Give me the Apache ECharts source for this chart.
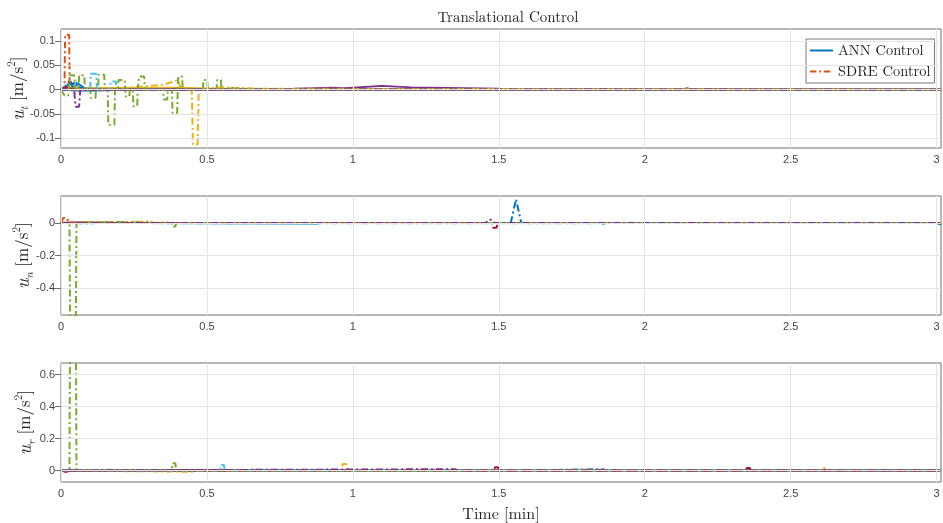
<!DOCTYPE html>
<html>
<head>
<meta charset="utf-8">
<script src="https://cdn.jsdelivr.net/npm/echarts@6/dist/echarts.min.js"></script>
<style>
  html, body { margin: 0; padding: 0; background: #fff; }
  #chart { width: 943px; height: 523px; }
</style>
</head>
<body>
<div id="chart"></div>
<script>
// time axis [min]
let tEnd = 3.015;
let xTicks = [0, 0.5, 1, 1.5, 2, 2.5, 3];

// u_t panel, ANN (solid)
let utAnnBlue = [[0, 0], [0.02, 0.008], [0.03, 0.015], [0.04, 0.005], [0.06, 0.012], [0.08, 0.004], [0.12, 0.002], [0.4, 0], [tEnd, 0]];
let utAnnOrange = [[0, 0], [0.012, 0.005], [0.03, 0.002], [tEnd, 0]];
let utAnnYellow = [[0, 0], [0.05, 0.003], [0.4, 0.004], [0.6, 0.001], [tEnd, 0]];
let utAnnPurple = [[0, 0], [0.05, -0.002], [0.3, 0], [0.6, 0.001], [0.8, 0.002], [0.93, 0.004], [0.97, 0.003], [1.1, 0.008], [1.2, 0.005], [1.5, 0.002], [2, 0.001], [tEnd, 0]];
let utAnnGreen = [[0, 0], [0.1, 0.002], [0.5, 0.001], [2.13, 0], [2.145, 0.004], [2.16, 0], [tEnd, 0]];
let utAnnLblue = [[0, 0], [0.1, -0.003], [0.2, 0], [tEnd, 0]];
let utAnnRed = [[0, 0], [0.02, 0.003], [0.06, 0.001], [tEnd, 0]];

// u_t panel, SDRE (dash-dot)
let utSdreBlue = [[0, 0], [0.02, 0.01], [0.03, 0.02], [0.04, 0.01], [0.05, 0.018], [0.06, 0.005], [0.1, 0], [tEnd, 0]];
let utSdreOrange = [[0, 0], [0.012, 0], [0.014, 0.113], [0.028, 0.113], [0.03, 0], [tEnd, 0]];
let utSdreYellow = [[0, 0], [0.2, 0.003], [0.35, 0.01], [0.4, 0.02], [0.41, 0.005], [0.448, 0], [0.452, -0.113], [0.468, -0.113], [0.472, 0], [0.55, 0.005], [0.62, 0.003], [0.7, 0.002], [tEnd, 0]];
let utSdrePurple = [[0, 0], [0.045, 0], [0.05, -0.035], [0.062, -0.035], [0.066, 0], [tEnd, 0]];
let utSdreGreen = [[0, 0], [0.012, -0.012], [0.025, -0.012], [0.03, 0.03], [0.045, 0.03], [0.05, 0], [0.06, 0], [0.062, 0.03], [0.08, 0.03], [0.082, 0],
    [0.1, 0], [0.102, -0.017], [0.118, -0.017], [0.12, 0], [0.127, 0], [0.129, 0.031], [0.148, 0.031], [0.15, 0],
    [0.16, 0], [0.162, -0.072], [0.183, -0.072], [0.185, 0], [0.195, 0], [0.197, 0.02], [0.218, 0.02], [0.22, 0],
    [0.222, -0.014], [0.234, -0.014], [0.236, 0], [0.246, 0], [0.248, -0.034], [0.261, -0.034], [0.263, 0],
    [0.265, 0], [0.267, 0.027], [0.285, 0.027], [0.287, 0], [0.35, 0], [0.352, -0.02], [0.364, -0.02], [0.366, 0],
    [0.38, 0], [0.382, -0.048], [0.398, -0.048], [0.4, 0], [0.402, 0.027], [0.415, 0.027], [0.417, 0],
    [0.486, 0], [0.488, 0.02], [0.501, 0.02], [0.503, 0], [0.533, 0], [0.535, 0.02], [0.548, 0.02], [0.55, 0],
    [0.6, 0.004], [0.65, 0], [tEnd, 0]];
let utSdreLblue = [[0, 0], [0.1, 0], [0.102, 0.033], [0.121, 0.033], [0.123, 0], [0.168, 0], [0.17, 0.017], [0.188, 0.017], [0.19, 0], [tEnd, 0]];
let utSdreRed = [[0, 0], [0.02, 0.005], [0.04, 0], [tEnd, 0]];

// u_n panel
let unAnnBlue = [[0, 0], [0.87, -0.004], [0.9, 0], [tEnd, 0]];
let unAnnOther = [[0, 0], [0.05, 0.002], [0.2, 0], [tEnd, 0]];
let unSdreBlue = [[0, 0], [0.86, 0], [0.87, -0.008], [0.88, 0], [1.541, 0], [1.559, 0.145], [1.577, 0], [1.85, 0], [1.86, -0.006], [1.87, 0], [3.0, 0], [3.01, -0.008], [tEnd, -0.005]];
let unSdreOrange = [[0, 0], [0.008, 0.03], [0.02, 0.03], [0.028, 0], [tEnd, 0]];
let unSdreYellow = [[0, 0], [0.3, 0.008], [0.32, 0], [tEnd, 0]];
let unSdrePurple = [[0, 0], [1.455, 0], [1.465, 0.02], [1.475, 0.02], [1.485, 0], [tEnd, 0]];
let unSdreGreen = [[0, 0], [0.029, 0], [0.031, -0.57], [0.051, -0.57], [0.053, 0], [0.2, 0.006], [0.22, 0.004], [0.38, 0], [0.382, -0.022], [0.392, -0.022], [0.394, 0], [tEnd, 0]];
let unSdreLblue = [[0, 0], [0.1, -0.004], [0.12, 0], [0.55, -0.003], [tEnd, 0]];
let unSdreRed = [[0, 0], [1.475, 0], [1.48, -0.03], [1.492, -0.03], [1.497, 0], [tEnd, 0]];

// u_r panel
let urAnnBlue = [[0, 0], [0.03, 0.003], [0.1, 0], [tEnd, 0]];
let urAnnOther = [[0, 0], [0.04, -0.002], [0.2, 0], [tEnd, 0]];
let urSdreBlue = [[0, 0], [1.565, 0], [1.57, -0.01], [1.58, 0], [1.855, 0.008], [1.87, 0], [tEnd, 0]];
let urSdreOrange = [[0, 0], [0.015, -0.008], [0.03, 0], [tEnd, 0]];
let urSdreYellow = [[0, 0], [0.45, -0.008], [0.47, 0], [0.962, 0], [0.965, 0.04], [0.978, 0.04], [0.981, 0], [2.6, 0], [2.605, 0.015], [2.615, 0.015], [2.62, 0], [tEnd, 0]];
let urSdrePurple = [[0, 0], [1.35, 0.008], [1.36, 0], [tEnd, 0]];
let urSdreGreen = [[0, 0], [0.029, 0], [0.031, 0.9], [0.051, 0.9], [0.053, 0], [0.17, 0.004], [0.38, 0], [0.382, 0.045], [0.392, 0.045], [0.394, 0], [tEnd, 0]];
let urSdreLblue = [[0, 0], [0.545, 0], [0.548, 0.035], [0.558, 0.035], [0.561, 0], [tEnd, 0]];
let urSdreRed = [[0, 0], [0.02, -0.008], [0.03, 0], [1.483, 0], [1.487, 0.02], [1.497, 0.02], [1.5, 0], [2.345, 0], [2.35, 0.015], [2.36, 0.015], [2.365, 0], [tEnd, 0]];

// y ranges and tick values
let yRanges = [[-0.12, 0.125], [-0.565, 0.165], [-0.072, 0.672]];
let yTicks = [[-0.1, -0.05, 0, 0.05, 0.1], [-0.4, -0.2, 0], [0, 0.2, 0.4, 0.6]];
let yNames = ['t', 'n', 'r'];

let colors = ['#0072BD', '#D95319', '#EDB120', '#7E2F8E', '#77AC30', '#4DBEEE', '#A2142F'];
let dashDot = [7, 3, 2, 3];

let panels = [
    {
        ann: [utAnnBlue, utAnnOrange, utAnnYellow, utAnnPurple, utAnnGreen, utAnnLblue, utAnnRed],
        sdre: [utSdreBlue, utSdreOrange, utSdreYellow, utSdreRed, utSdreLblue, utSdreGreen, utSdrePurple]
    },
    {
        ann: [unAnnBlue, unAnnOther, unAnnOther, unAnnOther, unAnnOther, unAnnOther, unAnnOther],
        sdre: [unSdreBlue, unSdreOrange, unSdreYellow, unSdreRed, unSdreLblue, unSdreGreen, unSdrePurple]
    },
    {
        ann: [urAnnBlue, urAnnOther, urAnnOther, urAnnOther, urAnnOther, urAnnOther, urAnnOther],
        sdre: [urSdreBlue, urSdreOrange, urSdreYellow, urSdreRed, urSdreLblue, urSdreGreen, urSdrePurple]
    }
];
let sdreColors = [0, 1, 2, 6, 5, 4, 3];

let gridTops = [29, 196, 363];
let gridHeight = 119;
let nameGaps = [31, 26, 24];
let serif = '"Latin Modern Roman", "DejaVu Serif", "Liberation Serif", serif';
let sans = '"Liberation Sans", Arial, Helvetica, sans-serif';
let axisGray = '#6e6e6e';

let grids = [], xAxes = [], yAxes = [], series = [];
panels.forEach(function(p, i) {
    grids.push({
        left: 61, right: 2, top: gridTops[i], height: gridHeight,
        outerBoundsMode: 'none', containLabel: false,
        show: true, borderColor: axisGray, borderWidth: 1
    });
    xAxes.push({
        type: 'value', gridIndex: i, min: 0, max: tEnd,
        axisLine: { lineStyle: { color: axisGray } },
        axisTick: { inside: true, length: 6, customValues: xTicks, lineStyle: { color: axisGray } },
        axisLabel: { color: '#444', fontFamily: sans, fontSize: 11, margin: 6, customValues: xTicks },
        splitLine: { show: false },
        name: i === 2 ? 'Time [min]' : '',
        nameLocation: 'middle', nameGap: 24, nameMoveOverlap: false,
        nameTextStyle: { fontFamily: serif, fontSize: 16, color: '#222' }
    });
    let yr = yRanges[i];
    yAxes.push({
        type: 'value', gridIndex: i, min: yr[0], max: yr[1],
        axisLine: { show: true, lineStyle: { color: axisGray } },
        axisTick: { show: true, inside: true, length: 6, customValues: yTicks[i], lineStyle: { color: axisGray } },
        axisLabel: { color: '#444', fontFamily: sans, fontSize: 11, margin: 6, customValues: yTicks[i] },
        splitLine: { show: false },
        name: '{u|u}{s|' + yNames[i] + '}{b| [m/s}{p|2}{b|]}',
        nameLocation: 'middle', nameGap: nameGaps[i], nameMoveOverlap: false,
        nameTextStyle: {
            rich: {
                u: { fontFamily: serif, fontStyle: 'italic', fontSize: 19, color: '#222', lineHeight: 24, verticalAlign: 'middle' },
                s: { fontFamily: serif, fontStyle: 'italic', fontSize: 11, color: '#222', lineHeight: 24, verticalAlign: 'bottom' },
                b: { fontFamily: serif, fontSize: 17, color: '#222', lineHeight: 24, verticalAlign: 'middle' },
                p: { fontFamily: serif, fontSize: 11, color: '#222', lineHeight: 24, verticalAlign: 'top' }
            }
        }
    });
    // mirrored ticks on the top and right box edges
    xAxes.push({
        type: 'value', gridIndex: i, min: 0, max: tEnd, position: 'top',
        axisLine: { show: false },
        axisTick: { show: true, inside: true, length: 6, customValues: xTicks, lineStyle: { color: axisGray } },
        axisLabel: { show: false }, splitLine: { show: false }
    });
    yAxes.push({
        type: 'value', gridIndex: i, min: yr[0], max: yr[1], position: 'right',
        axisLine: { show: false },
        axisTick: { show: true, inside: true, length: 6, customValues: yTicks[i], lineStyle: { color: axisGray } },
        axisLabel: { show: false }, splitLine: { show: false }
    });
    let xi = i * 2, yi = i * 2;
    // grid lines at the tick values, drawn under the data
    series.push({
        name: 'grid' + i, type: 'line', xAxisIndex: xi, yAxisIndex: yi, data: [],
        silent: true, symbol: 'none', z: 0,
        markLine: {
            silent: true, symbol: 'none', label: { show: false }, animation: false,
            lineStyle: { color: '#e4e4e4', width: 1, type: 'solid' },
            data: xTicks.map(function(v) { return { xAxis: v }; })
                .concat(yTicks[i].map(function(v) { return { yAxis: v }; }))
        }
    });
    p.ann.forEach(function(d, k) {
        series.push({
            name: (i === 0 && k === 0) ? 'ANN Control' : 'ann' + i + k,
            type: 'line', xAxisIndex: xi, yAxisIndex: yi, data: d,
            showSymbol: false, symbol: 'none', silent: true, z: 2,
            lineStyle: { color: colors[k], width: 1.8 },
            itemStyle: { color: colors[k] }
        });
    });
    p.sdre.forEach(function(d, k) {
        let c = colors[sdreColors[k]];
        series.push({
            name: (i === 0 && sdreColors[k] === 1) ? 'SDRE Control' : 'sdre' + i + k,
            type: 'line', xAxisIndex: xi, yAxisIndex: yi, data: d,
            showSymbol: false, symbol: 'none', silent: true, z: 3,
            lineStyle: { color: c, width: 2, type: dashDot },
            itemStyle: { color: c }
        });
    });
});

let chartElem = document.getElementById('chart');
let chart = echarts.init(chartElem);
chart.setOption({
    animation: false,
    title: {
        text: 'Translational Control',
        left: 503, top: 5, textAlign: 'center',
        textStyle: { fontFamily: serif, fontSize: 15, fontWeight: 'normal', color: '#222' }
    },
    legend: {
        data: [
            { name: 'ANN Control', icon: 'path://M0,0h24v2h-24z' },
            { name: 'SDRE Control', icon: 'path://M0,0h7v2h-7zM10,0h2v2h-2zM15,0h7v2h-7zM25,0h0v2h0z' }
        ],
        orient: 'vertical', left: 806, top: 39,
        backgroundColor: '#fff', borderColor: '#777', borderWidth: 1, borderRadius: 0,
        padding: [4, 4, 4, 4], itemGap: 6, itemWidth: 23, itemHeight: 2,
        textStyle: { fontFamily: serif, fontSize: 14.5, color: '#222' }
    },
    grid: grids,
    xAxis: xAxes,
    yAxis: yAxes,
    series: series
});
window.addEventListener('resize', function() {
    chart.resize();
});
</script>
</body>
</html>
